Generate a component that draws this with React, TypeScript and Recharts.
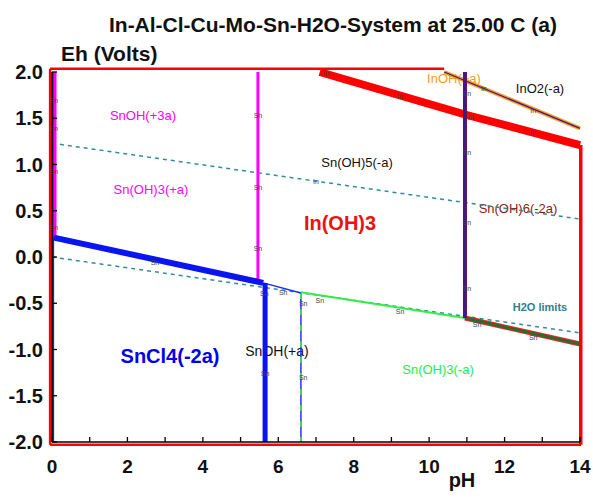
import { LineChart, Line, XAxis, YAxis, ReferenceLine, Scatter } from "recharts";

type Pt = { x: number; y: number };

// H2O stability limits
const waterUpper: Pt[] = [{ x: 0, y: 1.23 }, { x: 14, y: 0.41 }];
const waterLower: Pt[] = [{ x: 0, y: 0.0 }, { x: 14, y: -0.82 }];

// Sn boundaries
const snLeftEdge: Pt[] = [{ x: 0.03, y: 2.0 }, { x: 0.03, y: -2.0 }];
const snOh3Left: Pt[] = [{ x: 0.08, y: 2.0 }, { x: 0.08, y: 0.21 }];
const snOh3Mid: Pt[] = [{ x: 5.46, y: 2.0 }, { x: 5.46, y: -0.27 }];
const snCl4Top: Pt[] = [{ x: 0.05, y: 0.21 }, { x: 5.6, y: -0.28 }];
const snCl4Right: Pt[] = [{ x: 5.65, y: -0.28 }, { x: 5.65, y: -2.0 }];
const snOhThin: Pt[] = [{ x: 5.6, y: -0.28 }, { x: 6.6, y: -0.39 }];
const snOhRight: Pt[] = [{ x: 6.6, y: -0.39 }, { x: 6.6, y: -2.0 }];
const snOh3Minus: Pt[] = [{ x: 6.6, y: -0.38 }, { x: 10.95, y: -0.66 }];
const snOh6Low: Pt[] = [{ x: 10.95, y: -0.66 }, { x: 14, y: -0.94 }];
const snOh6Vert: Pt[] = [{ x: 10.95, y: 2.0 }, { x: 10.95, y: -0.66 }];

// In boundaries
const inOh3Top: Pt[] = [{ x: 7.1, y: 2.0 }, { x: 11, y: 1.535 }, { x: 14, y: 1.21 }];
const inO2Line: Pt[] = [{ x: 10.4, y: 2.0 }, { x: 14, y: 1.39 }];

// red frame around In(OH)3 field
const inFrame: Pt[][] = [
  [{ x: -0.05, y: 2.035 }, { x: 10.4, y: 2.035 }],
  [{ x: -0.05, y: 2.035 }, { x: -0.05, y: -2.03 }],
  [{ x: -0.05, y: -2.03 }, { x: 14.03, y: -2.03 }],
  [{ x: 14.02, y: 1.21 }, { x: 14.02, y: -2.03 }],
];

const snMarks: Pt[] = [
  { x: 0.05, y: 1.7 }, { x: 0.05, y: 1.39 }, { x: 0.05, y: 0.93 }, { x: 0.05, y: 0.32 },
  { x: 5.46, y: 1.53 }, { x: 5.46, y: 0.76 }, { x: 5.46, y: 0.1 },
  { x: 2.73, y: -0.05 }, { x: 5.63, y: -0.39 }, { x: 6.13, y: -0.38 }, { x: 5.65, y: -1.25 },
  { x: 6.66, y: -0.5 }, { x: 7.1, y: -0.46 }, { x: 9.23, y: -0.58 }, { x: 11.0, y: -0.33 },
  { x: 11.27, y: -0.72 }, { x: 12.76, y: -0.86 }, { x: 6.66, y: -1.3 },
  { x: 11.0, y: 1.77 }, { x: 11.0, y: 1.14 }, { x: 11.0, y: 0.38 },
];
const inMarks: Pt[] = [
  { x: 7.27, y: 1.99 }, { x: 9.23, y: 1.74 }, { x: 11.45, y: 1.83 }, { x: 12.76, y: 1.59 },
  { x: 12.76, y: 1.35 }, { x: 11.1, y: 1.51 }, { x: 7.0, y: 0.82 },
];

const phTicks = [0, 1, 2, 3, 4, 5, 6, 7, 8, 9, 10, 11, 12, 13, 14];
const ehTicks = [-2, -1.5, -1, -0.5, 0, 0.5, 1, 1.5, 2];

const fieldLabels = [
  { text: "SnOH(+3a)", x: 143, y: 120, color: "#ff00ff", size: 13, weight: 400 },
  { text: "Sn(OH)3(+a)", x: 151, y: 194, color: "#ff00ff", size: 13, weight: 400 },
  { text: "Sn(OH)5(-a)", x: 357, y: 167, color: "#111", size: 13, weight: 400 },
  { text: "In(OH)3", x: 340, y: 230, color: "#ee1111", size: 20, weight: 700 },
  { text: "Sn(OH)6(-2a)", x: 518, y: 213, color: "#8b1a1a", size: 13, weight: 400 },
  { text: "InOH(+a)", x: 454, y: 83, color: "#ff9a1f", size: 13, weight: 400 },
  { text: "InO2(-a)", x: 540, y: 93, color: "#111", size: 13, weight: 400 },
  { text: "H2O limits", x: 540, y: 311, color: "#2f7f8f", size: 11, weight: 700 },
  { text: "SnCl4(-2a)", x: 170, y: 363, color: "#0000ee", size: 20, weight: 700 },
  { text: "SnOH(+a)", x: 277, y: 356, color: "#111", size: 14, weight: 400 },
  { text: "Sn(OH)3(-a)", x: 438, y: 374, color: "#22ee44", size: 13, weight: 400 },
];

const font = "Arial, 'Liberation Sans', sans-serif";

const markShape = (label: string) => (props: any) => (
  <text x={props.cx} y={props.cy + 3} textAnchor="middle" fontSize={7} fontFamily={font} fill="#444">
    {label}
  </text>
);

// inward tick marks plus labels
const BottomTick = (p: any) => {
  const v = p.payload.value as number;
  return (
    <g>
      <line x1={p.x} x2={p.x} y1={p.y - 5} y2={p.y} stroke="#000" strokeWidth={1.3} />
      {v % 2 === 0 && (
        <text x={p.x} y={p.y + 31} textAnchor="middle" fontSize={19} fontWeight={700} fontFamily={font} fill="#111">
          {v}
        </text>
      )}
    </g>
  );
};
const LeftTick = (p: any) => (
  <g>
    <line x1={p.x} x2={p.x + 5} y1={p.y} y2={p.y} stroke="#000" strokeWidth={1.3} />
    <text x={p.x - 9} y={p.y + 7} textAnchor="end" fontSize={20} fontWeight={700} fontFamily={font} fill="#111">
      {(p.payload.value as number).toFixed(1)}
    </text>
  </g>
);
const TopTick = (p: any) => <line x1={p.x} x2={p.x} y1={p.y} y2={p.y + 5} stroke="#000" strokeWidth={1.3} />;
const RightTick = (p: any) => <line x1={p.x - 5} x2={p.x} y1={p.y} y2={p.y} stroke="#000" strokeWidth={1.3} />;

export default function App() {
  const line = (data: Pt[], color: string, width: number, dash?: string) => (
    <Line
      data={data}
      dataKey="y"
      type="linear"
      stroke={color}
      strokeWidth={width}
      strokeDasharray={dash}
      dot={false}
      activeDot={false}
      isAnimationActive={false}
    />
  );

  return (
    <div style={{ position: "absolute", left: 0, top: 0, width: 593, height: 500, background: "#fff" }}>
      <LineChart width={593} height={500} margin={{ top: 72, right: 13, bottom: 28, left: 7 }}>
        <XAxis dataKey="x" type="number" domain={[0, 14]} ticks={phTicks} tick={BottomTick} tickLine={false} tickSize={0} tickMargin={0} height={30} stroke="#000" strokeWidth={1.5} />
        <XAxis xAxisId="top" orientation="top" dataKey="x" type="number" domain={[0, 14]} ticks={phTicks} tick={TopTick} tickLine={false} tickSize={0} tickMargin={0} height={0} stroke="#000" strokeWidth={1.5} />
        <YAxis type="number" domain={[-2, 2]} ticks={ehTicks} tick={LeftTick} tickLine={false} tickSize={0} tickMargin={0} width={45} stroke="#000" strokeWidth={1.5} />
        <YAxis yAxisId="right" orientation="right" type="number" domain={[-2, 2]} ticks={ehTicks} tick={RightTick} tickLine={false} tickSize={0} tickMargin={0} width={0} stroke="#000" strokeWidth={1.5} />

        {line(waterUpper, "#2f8f8f", 1.5, "4 4")}
        {line(waterLower, "#2f8f8f", 1.5, "4 4")}
        {line(snLeftEdge, "#2020c0", 2)}
        {line(snOh3Left, "#ff00ff", 3)}
        {line(snOh3Mid, "#ff00ff", 3)}
        {line(snOhRight, "#2030ee", 1.5)}
        {line(snOhRight, "#44ee44", 1.5, "6 10")}
        {line(snOhThin, "#2030ee", 1.5)}
        {line(snOh3Minus, "#33ee44", 2)}
        {line(snOh6Low, "#ee2222", 5)}
        {line(snOh6Low, "#2e6a2e", 3)}
        {line(snCl4Top, "#0a14f0", 6)}
        {line(snCl4Right, "#0a14f0", 5)}
        {line(inOh3Top, "#ff0000", 8)}
        {line(inO2Line, "#ff9a1f", 4)}
        {line(inO2Line, "#3a1a90", 1.2)}
        {line(snOh6Vert, "#7a1030", 4)}
        {line(snOh6Vert, "#3a1a90", 2.5)}

        {inFrame.map((seg, i) => (
          <ReferenceLine key={i} segment={seg} stroke="#ff0000" strokeWidth={i === 3 ? 3.5 : 2.5} ifOverflow="visible" />
        ))}

        <Scatter data={snMarks} dataKey="y" shape={markShape("Sn")} isAnimationActive={false} />
        <Scatter data={inMarks} dataKey="y" shape={markShape("In")} isAnimationActive={false} />

        <text x={333} y={32} textAnchor="middle" fontSize={21} fontWeight={700} fontFamily={font} fill="#111">
          In-Al-Cl-Cu-Mo-Sn-H2O-System at 25.00 C (a)
        </text>
        <text x={61} y={61} fontSize={21} fontWeight={700} fontFamily={font} fill="#111">
          Eh (Volts)
        </text>
        <text x={462} y={487} textAnchor="middle" fontSize={20} fontWeight={700} fontFamily={font} fill="#111">
          pH
        </text>
        {fieldLabels.map((l) => (
          <text key={l.text} x={l.x} y={l.y} textAnchor="middle" fontSize={l.size} fontWeight={l.weight} fontFamily={font} fill={l.color}>
            {l.text}
          </text>
        ))}
      </LineChart>
    </div>
  );
}
